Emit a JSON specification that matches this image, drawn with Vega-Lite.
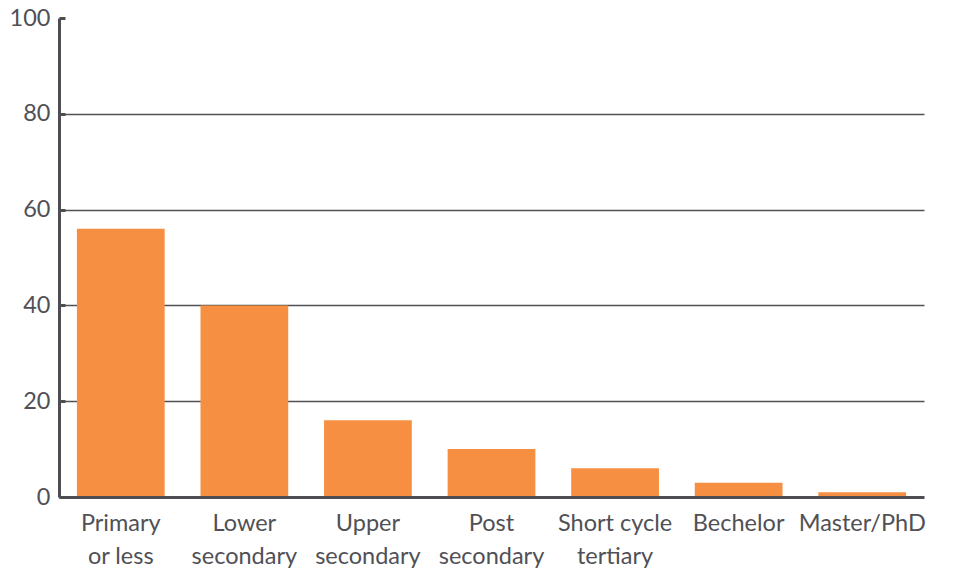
{
  "$schema": "https://vega.github.io/schema/vega-lite/v6.json",
  "autosize": "none",
  "width": 865,
  "height": 479,
  "padding": {"left": 59, "top": 18, "right": 30, "bottom": 77},
  "background": "white",
  "data": {
    "values": [
      {"level": "Primary or less", "value": 56},
      {"level": "Lower secondary", "value": 40},
      {"level": "Upper secondary", "value": 16},
      {"level": "Post secondary", "value": 10},
      {"level": "Short cycle tertiary", "value": 6},
      {"level": "Bechelor", "value": 3},
      {"level": "Master/PhD", "value": 1}
    ]
  },
  "config": {
    "view": {"stroke": null},
    "font": "Lato"
  },
  "mark": {"type": "bar", "color": "#F68F41"},
  "encoding": {
    "x": {
      "field": "level",
      "type": "nominal",
      "sort": null,
      "scale": {"paddingInner": 0.29, "paddingOuter": 0.145},
      "axis": {
        "title": null,
        "labelAngle": 0,
        "ticks": false,
        "domainColor": "#4d4d52",
        "domainWidth": 3,
        "labelFontSize": 23.5,
        "labelColor": "#505055",
        "labelPadding": 14,
        "labelLineHeight": 33,
        "labelBaseline": "top",
        "labelExpr": "datum.value == 'Primary or less' ? ['Primary','or less'] : datum.value == 'Lower secondary' ? ['Lower','secondary'] : datum.value == 'Upper secondary' ? ['Upper','secondary'] : datum.value == 'Post secondary' ? ['Post','secondary'] : datum.value == 'Short cycle tertiary' ? ['Short cycle','tertiary'] : datum.value",
        "zindex": 1
      }
    },
    "y": {
      "field": "value",
      "type": "quantitative",
      "scale": {"domain": [0, 100], "nice": false},
      "axis": {
        "title": null,
        "values": [0, 20, 40, 60, 80, 100],
        "domainColor": "#4d4d52",
        "domainWidth": 3,
        "tickColor": "#4d4d52",
        "tickWidth": 3,
        "tickSize": -6,
        "labelPadding": 15,
        "labelFontSize": 23.5,
        "labelColor": "#505055",
        "grid": true,
        "gridColor": "#505055",
        "gridWidth": 1.5,
        "gridOpacity": {"condition": {"test": "datum.value == 100 || datum.value == 0", "value": 0}, "value": 1}
      }
    }
  }
}
